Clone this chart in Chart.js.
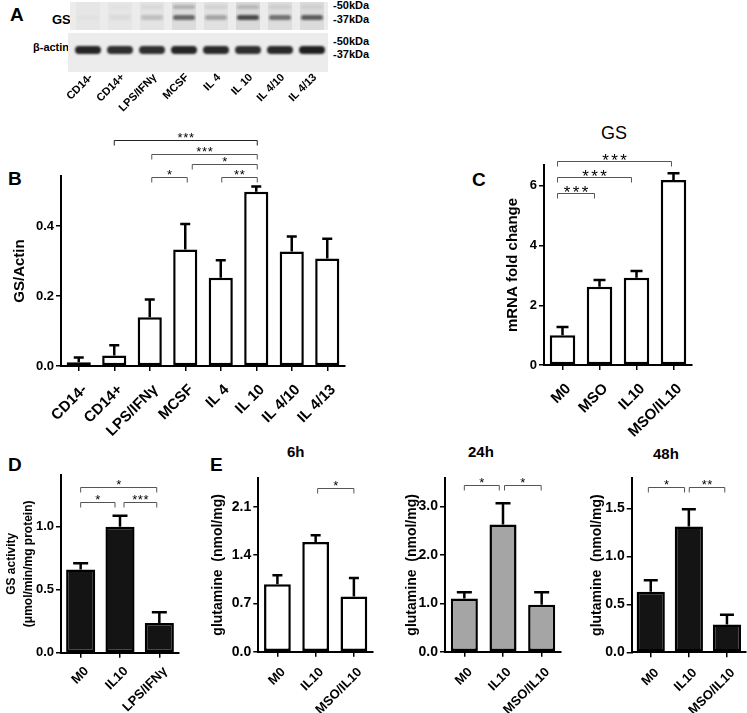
<!DOCTYPE html>
<html>
<head>
<meta charset="utf-8">
<script src="https://cdn.jsdelivr.net/npm/chart.js@4.4.1/dist/chart.umd.min.js"></script>
<style>
  body { margin: 0; background: #fff; width: 747px; height: 713px; position: relative; overflow: hidden;
         font-family: 'Liberation Sans', Arial, sans-serif; }
  canvas { position: absolute; }
  .t { position: absolute; white-space: nowrap; font-weight: bold; line-height: 1; color: #000; }
</style>
</head>
<body>
<div class="t" style="left:10px;top:4.5px;font-size:19px">A</div>
<div class="t" style="left:8px;top:168.5px;font-size:19px">B</div>
<div class="t" style="left:472px;top:169.5px;font-size:19px">C</div>
<div class="t" style="left:8px;top:454.5px;font-size:19px">D</div>
<div class="t" style="left:210px;top:454.5px;font-size:19px">E</div>

<div class="t" style="left:52px;top:13px;font-size:13px">GS</div>
<div class="t" style="left:33px;top:41.5px;font-size:11px">β-actin</div>
<div class="t" style="left:333px;top:-0.5px;font-size:11px">-50kDa</div>
<div class="t" style="left:333px;top:13.5px;font-size:11px">-37kDa</div>
<div class="t" style="left:333px;top:35.5px;font-size:11px">-50kDa</div>
<div class="t" style="left:333px;top:48.5px;font-size:11px">-37kDa</div>

<div class="t" style="left:601px;top:124px;font-size:18px;font-weight:normal">GS</div>
<div class="t" style="left:287px;top:444px;font-size:15px">6h</div>
<div class="t" style="left:468px;top:444px;font-size:15px">24h</div>
<div class="t" style="left:653px;top:446px;font-size:15px">48h</div>

<script>
Chart.defaults.font.family = "'Liberation Sans', Arial, sans-serif";
Chart.defaults.color = '#000';
Chart.defaults.animation = false;
Chart.defaults.plugins.legend.display = false;
Chart.defaults.plugins.tooltip.enabled = false;

// ---- A: western blot lanes
const laneLabels = ['CD14-', 'CD14+', 'LPS/IFNγ', 'MCSF', 'IL 4', 'IL 10', 'IL 4/10', 'IL 4/13'];
const gsBand = [0.02, 0.05, 0.18, 0.6, 0.3, 0.75, 0.55, 0.65];
const gsUpperBand = [0, 0.02, 0.05, 0.22, 0.08, 0.18, 0.08, 0.06];
const actinBand = [0.92, 0.88, 0.88, 0.92, 0.9, 0.88, 0.9, 0.95];

// ---- B: GS/Actin densitometry
const bLabels = ['CD14-', 'CD14+', 'LPS/IFNγ', 'MCSF', 'IL 4', 'IL 10', 'IL 4/10', 'IL 4/13'];
const bValues = [0.011, 0.030, 0.139, 0.333, 0.252, 0.498, 0.327, 0.307];
const bErrors = [0.013, 0.029, 0.051, 0.073, 0.050, 0.015, 0.043, 0.057];
const bTicks = [0, 0.2, 0.4];
const bTickText = ['0.0', '0.2', '0.4'];

// ---- C: GS mRNA
const cLabels = ['M0', 'MSO', 'IL10', 'MSO/IL10'];
const cValues = [1.0, 2.62, 2.92, 6.2];
const cErrors = [0.27, 0.23, 0.23, 0.22];
const cTicks = [0, 2, 4, 6];
const cTickText = ['0', '2', '4', '6'];

// ---- D: GS activity
const dLabels = ['M0', 'IL10', 'LPS/IFNγ'];
const dValues = [0.66, 1.0, 0.235];
const dErrors = [0.05, 0.087, 0.085];
const dTicks = [0, 0.5, 1.0];
const dTickText = ['0.0', '0.5', '1.0'];

// ---- E: glutamine
const eLabels = ['M0', 'IL10', 'MSO/IL10'];
const e6Values = [0.98, 1.59, 0.80];
const e6Errors = [0.13, 0.10, 0.27];
const e6Ticks = [0, 0.7, 1.4, 2.1];
const e6TickText = ['0.0', '0.7', '1.4', '2.1'];
const e24Values = [1.10, 2.63, 0.97];
const e24Errors = [0.13, 0.44, 0.26];
const e24Ticks = [0, 1, 2, 3];
const e24TickText = ['0.0', '1.0', '2.0', '3.0'];
const e48Values = [0.63, 1.31, 0.29];
const e48Errors = [0.12, 0.18, 0.10];
const e48Ticks = [0, 0.5, 1.0, 1.5];
const e48TickText = ['0.0', '0.5', '1.0', '1.5'];

const FONT = "'Liberation Sans', Arial, sans-serif";

const errorBars = {
  id: 'errorBars',
  afterDatasetsDraw(chart, args, opts) {
    const { ctx, scales: { y } } = chart;
    const vals = chart.data.datasets[0].data;
    ctx.save();
    ctx.strokeStyle = '#000';
    ctx.lineWidth = opts.width;
    chart.getDatasetMeta(0).data.forEach((bar, i) => {
      const y0 = y.getPixelForValue(vals[i]);
      const y1 = y.getPixelForValue(vals[i] + opts.errors[i]);
      ctx.beginPath();
      ctx.moveTo(bar.x, y0);
      ctx.lineTo(bar.x, y1);
      ctx.moveTo(bar.x - opts.cap / 2, y1);
      ctx.lineTo(bar.x + opts.cap / 2, y1);
      ctx.stroke();
    });
    ctx.restore();
  }
};

const sigBrackets = {
  id: 'sigBrackets',
  afterDraw(chart, args, opts) {
    const { ctx, chartArea, scales: { x } } = chart;
    ctx.save();
    opts.items.forEach(b => {
      const xa = x.getPixelForValue(b.from) + (b.da || 0);
      const xb = x.getPixelForValue(b.to) + (b.db || 0);
      const yy = Math.round(chartArea.top + b.dy) + 0.5;
      ctx.strokeStyle = b.color || '#555';
      ctx.lineWidth = 1;
      ctx.beginPath();
      ctx.moveTo(xa, yy + 5);
      ctx.lineTo(xa, yy);
      ctx.lineTo(xb, yy);
      ctx.lineTo(xb, yy + 5);
      ctx.stroke();
      ctx.fillStyle = '#000';
      ctx.font = opts.starSize + 'px ' + FONT;
      ctx.textAlign = 'center';
      ctx.textBaseline = 'alphabetic';
      const n = b.text.length;
      const mid = (xa + xb) / 2;
      for (let k = 0; k < n; k++) {
        ctx.fillText('*', mid + (k - (n - 1) / 2) * opts.starStep, yy + opts.starDrop);
      }
    });
    ctx.restore();
  }
};

const blot = {
  id: 'blot',
  beforeDatasetsDraw(chart) {
    const { ctx, chartArea: ca, scales: { x } } = chart;
    const gsTop = ca.top, gsH = 28, acTop = ca.top + 31, acH = ca.bottom - ca.top - 31;
    ctx.save();
    ctx.fillStyle = '#ececec';
    ctx.fillRect(ca.left - 2, gsTop, ca.right - ca.left + 2, gsH);
    ctx.fillRect(ca.left - 4, acTop, ca.right - ca.left + 4, acH);
    laneLabels.forEach((l, i) => {
      const xc = x.getPixelForValue(i);
      ctx.fillStyle = 'rgba(0,0,0,' + (0.02 + 0.08 * gsBand[i]) + ')';
      ctx.fillRect(xc - 12, gsTop, 24, gsH);
    });
    ctx.filter = 'blur(1.3px)';
    laneLabels.forEach((l, i) => {
      const xc = x.getPixelForValue(i);
      ctx.fillStyle = 'rgba(25,25,25,' + gsBand[i] + ')';
      ctx.beginPath(); ctx.roundRect(xc - 11, gsTop + 13, 22, 5, 2.5); ctx.fill();
      ctx.fillStyle = 'rgba(25,25,25,' + gsUpperBand[i] + ')';
      ctx.beginPath(); ctx.roundRect(xc - 11, gsTop + 3, 22, 4, 2); ctx.fill();
      ctx.fillStyle = 'rgba(20,20,20,' + actinBand[i] + ')';
      ctx.beginPath(); ctx.roundRect(xc - 13, acTop + 13, 26, 8, 4); ctx.fill();
    });
    ctx.restore();
  }
};

// panel A
(function () {
  const cv = document.createElement('canvas');
  cv.width = 275; cv.height = 120;
  cv.style.left = '60px'; cv.style.top = '0px';
  document.body.appendChild(cv);
  new Chart(cv, {
    type: 'bar',
    data: { labels: laneLabels, datasets: [] },
    options: {
      responsive: false, devicePixelRatio: 1,
      layout: { padding: { left: 12, top: 2, right: 7, bottom: 0 } },
      scales: {
        x: {
          grid: { display: false, drawTicks: false }, border: { display: false },
          ticks: { minRotation: 45, maxRotation: 45, autoSkip: false, padding: -1, labelOffset: 3,
                   font: { size: 11, weight: 'bold' } },
          afterFit: s => { s.height = 120 - 72; }
        },
        y: { display: false, min: 0, max: 1 }
      }
    },
    plugins: [blot]
  });
})();

function barPanel(p) {
  const lh = p.titleSize * p.titleLH;
  const left = Math.round(p.titleX - lh / 2);
  const top = Math.round(p.yT - 55);
  const cv = document.createElement('canvas');
  cv.width = Math.round(p.x1 - left + 8);
  cv.height = Math.round(p.yB - top + 85);
  cv.style.left = left + 'px';
  cv.style.top = top + 'px';
  document.body.appendChild(cv);
  const xH = cv.height - (p.yB - top);
  new Chart(cv, {
    type: 'bar',
    data: {
      labels: p.labels,
      datasets: [{
        data: p.values, backgroundColor: p.fill, borderColor: '#000', borderWidth: 2.5,
        borderSkipped: false, barPercentage: p.barPct, categoryPercentage: 1
      }]
    },
    options: {
      responsive: false, devicePixelRatio: 1,
      layout: { padding: { left: 0, top: p.yT - top, right: 8, bottom: 0 } },
      scales: {
        x: {
          offset: true,
          grid: { display: true, offset: false, drawOnChartArea: false, drawTicks: true, tickLength: 5,
                  color: '#000', lineWidth: 1.5 },
          border: { color: '#000', width: 2 },
          ticks: { minRotation: 45, maxRotation: 45, autoSkip: false, padding: p.xPad, labelOffset: 6,
                   font: { size: p.xFont, weight: 'bold' } },
          afterFit: s => { s.height = xH; }
        },
        y: {
          min: 0, max: p.max,
          grid: { display: true, drawOnChartArea: false, drawTicks: true, tickLength: 5,
                  color: '#000', lineWidth: 1.5 },
          border: { color: '#000', width: 2 },
          ticks: { padding: 2, font: { size: p.yFont, weight: 'bold' },
                   callback: (v, i) => p.tickText[i] },
          afterBuildTicks: s => { s.ticks = p.ticks.map(v => ({ value: v })); },
          title: { display: true, text: p.title, padding: 0,
                   font: { size: p.titleSize, weight: 'bold', lineHeight: p.titleLH } },
          afterFit: s => { s.width = p.x0 - left; }
        }
      },
      plugins: {
        errorBars: { errors: p.errors, cap: p.cap, width: 2.5 },
        sigBrackets: { items: p.brackets, starSize: p.starSize, starStep: p.starStep, starDrop: p.starDrop }
      }
    },
    plugins: [errorBars, sigBrackets]
  });
}

barPanel({
  labels: bLabels, values: bValues, errors: bErrors, ticks: bTicks, tickText: bTickText,
  x0: 61, x1: 345, yT: 176, yB: 366, max: 0.543, fill: '#fff', barPct: 0.68, cap: 10,
  title: 'GS/Actin', titleX: 20, titleSize: 15, titleLH: 1.2, xFont: 15, xPad: 10, yFont: 13,
  starSize: 13, starStep: 5.7, starDrop: 1,
  brackets: [
    { from: 1, to: 5, text: '***', dy: -36, da: 0, db: 1, color: '#222' },
    { from: 2, to: 5, text: '***', dy: -22, da: 2, db: 1 },
    { from: 3, to: 5, text: '*', dy: -12, da: 7, db: 1 },
    { from: 2, to: 3, text: '*', dy: 1, da: 2, db: 2 },
    { from: 4, to: 5, text: '**', dy: 1, da: 1, db: 1 }
  ]
});

barPanel({
  labels: cLabels, values: cValues, errors: cErrors, ticks: cTicks, tickText: cTickText,
  x0: 544, x1: 692, yT: 165, yB: 365, max: 6.7, fill: '#fff', barPct: 0.69, cap: 12,
  title: 'mRNA fold change', titleX: 513, titleSize: 15, titleLH: 1.2, xFont: 15, xPad: 10, yFont: 13,
  starSize: 17, starStep: 9, starDrop: 4,
  brackets: [
    { from: 0, to: 1, text: '***', dy: 28, da: -5, db: -5 },
    { from: 0, to: 2, text: '***', dy: 12, da: -5, db: -5 },
    { from: 0, to: 3, text: '***', dy: -4, da: -5, db: -2 }
  ]
});

barPanel({
  labels: dLabels, values: dValues, errors: dErrors, ticks: dTicks, tickText: dTickText,
  x0: 61, x1: 179, yT: 475, yB: 652.7, max: 1.41, fill: '#141414', barPct: 0.74, cap: 15,
  title: ['GS activity', '(μmol/min/mg protein)'], titleX: 12, titleSize: 12, titleLH: 1.42,
  xFont: 13, xPad: 6, yFont: 13, starSize: 13, starStep: 5.6, starDrop: 1,
  brackets: [
    { from: 0, to: 2, text: '*', dy: 11.7, da: 0, db: -2.6 },
    { from: 0, to: 1, text: '*', dy: 26.7, da: 0, db: -5 },
    { from: 1, to: 2, text: '***', dy: 26.7, da: 4, db: -2.6 }
  ]
});

barPanel({
  labels: eLabels, values: e6Values, errors: e6Errors, ticks: e6Ticks, tickText: e6TickText,
  x0: 258.3, x1: 372.5, yT: 478, yB: 651.7, max: 2.52, fill: '#fff', barPct: 0.70, cap: 10,
  title: 'glutamine  (nmol/mg)', titleX: 218, titleSize: 14, titleLH: 1.2,
  xFont: 13, xPad: 8, yFont: 14, starSize: 13, starStep: 5.6, starDrop: 1,
  brackets: [
    { from: 1, to: 2, text: '*', dy: 9.7, da: 2, db: 0 }
  ]
});

barPanel({
  labels: eLabels, values: e24Values, errors: e24Errors, ticks: e24Ticks, tickText: e24TickText,
  x0: 445, x1: 560.5, yT: 478, yB: 651.7, max: 3.59, fill: '#a5a5a5', barPct: 0.70, cap: 15,
  title: 'glutamine  (nmol/mg)', titleX: 412, titleSize: 14, titleLH: 1.2,
  xFont: 13, xPad: 8, yFont: 14, starSize: 13, starStep: 5.6, starDrop: 1,
  brackets: [
    { from: 0, to: 1, text: '*', dy: 6.5, da: 0, db: -3.7 },
    { from: 1, to: 2, text: '*', dy: 6.5, da: 1.5, db: -0.5 }
  ]
});

barPanel({
  labels: eLabels, values: e48Values, errors: e48Errors, ticks: e48Ticks, tickText: e48TickText,
  x0: 631.7, x1: 745.5, yT: 478, yB: 652.3, max: 1.816, fill: '#141414', barPct: 0.74, cap: 14,
  title: 'glutamine  (nmol/mg)', titleX: 597, titleSize: 14, titleLH: 1.2,
  xFont: 13, xPad: 8, yFont: 14, starSize: 13, starStep: 5.6, starDrop: 1,
  brackets: [
    { from: 0, to: 1, text: '*', dy: 9.3, da: -2.4, db: -4.3 },
    { from: 1, to: 2, text: '**', dy: 9.3, da: 0.4, db: -2.2 }
  ]
});
</script>
</body>
</html>
